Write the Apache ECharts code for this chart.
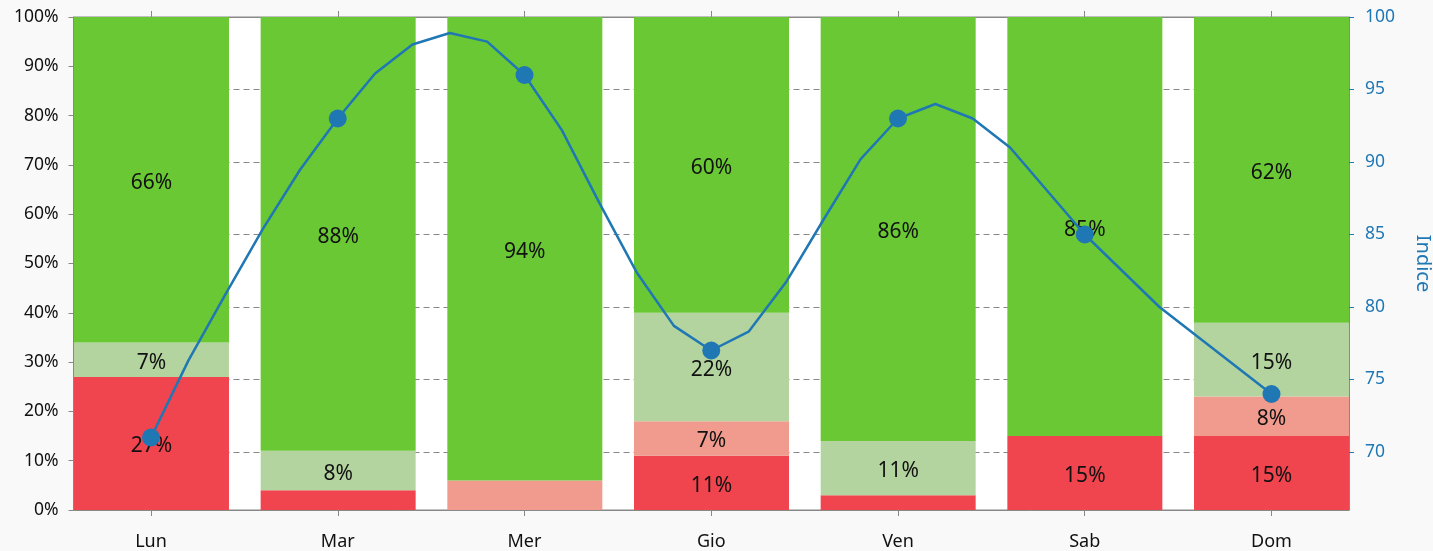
<!DOCTYPE html>
<html>
<head>
<meta charset="utf-8">
<script src="https://cdn.jsdelivr.net/npm/echarts@6/dist/echarts.min.js"></script>
<style>
html,body{margin:0;padding:0;background:#f9f9f9;}
#chart{width:1433px;height:551px;}
</style>
</head>
<body>
<div id="chart"></div>
<script>
const days = ['Lun', 'Mar', 'Mer', 'Gio', 'Ven', 'Sab', 'Dom'];
const redVals = [27, 4, 0, 11, 3, 15, 15];
const salmonVals = [0, 0, 6, 7, 0, 0, 8];
const lightGreenVals = [7, 8, 0, 22, 11, 0, 15];
const greenVals = [66, 88, 94, 60, 86, 85, 62];
const indexVals = [71, 93, 96, 77, 93, 85, 74];
// vertices of the drawn curve, 5 steps per day
const curveVals = [71, 76.3, 80.9, 85.4, 89.5,
                   93, 96.1, 98.1, 98.9, 98.3,
                   96, 92.2, 87.2, 82.4, 78.7,
                   77, 78.3, 81.7, 86.0, 90.2,
                   93, 94.0, 93.0, 91.0, 88.0,
                   85, 82.5, 80.0, 78.0, 76.0,
                   74];
const rightTicks = [70, 75, 80, 85, 90, 95, 100];
const gridVals = [70, 75, 80, 85, 90, 95];
const dayPos = days.map((d, i) => i);

const FONT = 'Noto Sans';
const BLUE = '#1f77b4';
const GREY = '#888888';

function barSeries(name, vals, color) {
  return {
    name: name, type: 'bar', stack: 'total', xAxisIndex: 2, yAxisIndex: 2,
    barWidth: 155, z: 2,
    data: vals,
    itemStyle: { color: color },
    label: {
      show: true, position: 'inside', offset: [0, 3], color: '#111', fontFamily: FONT, fontSize: 21,
      formatter: p => (p.value >= 7 ? p.value + '%' : '')
    }
  };
}

const chart = echarts.init(document.getElementById('chart'), null, { renderer: 'canvas' });
chart.setOption({
  animation: false,
  backgroundColor: '#f9f9f9',
  grid: [
    { left: 73.5, right: 84, top: 17, bottom: 41, show: true, backgroundColor: '#ffffff', borderColor: GREY, borderWidth: 1, outerBoundsMode: 'none', containLabel: false },
    { left: 58.15, right: 68.15, top: 17, bottom: 41, show: false, outerBoundsMode: 'none', containLabel: false }
  ],
  xAxis: [
    {
      gridIndex: 0, type: 'value', min: -0.415, max: 6.415, position: 'bottom',
      axisLine: { show: true, onZero: false, lineStyle: { color: GREY } },
      axisTick: { show: true, length: 6, lineStyle: { color: GREY }, customValues: dayPos },
      axisLabel: { customValues: dayPos, formatter: v => days[Math.round(v)], color: '#111', fontFamily: FONT, fontSize: 18, margin: 23 },
      splitLine: { show: false }
    },
    {
      gridIndex: 0, type: 'value', min: -0.415, max: 6.415, position: 'top',
      axisLine: { show: true, onZero: false, lineStyle: { color: GREY } },
      axisTick: { show: true, length: 6, lineStyle: { color: GREY }, customValues: dayPos },
      axisLabel: { show: false },
      splitLine: { show: false }
    },
    {
      gridIndex: 1, type: 'category', data: days, show: false, boundaryGap: true
    }
  ],
  yAxis: [
    {
      gridIndex: 0, type: 'value', min: 0, max: 100, interval: 10, position: 'left',
      axisLine: { show: true, onZero: false, lineStyle: { color: GREY } },
      axisTick: { show: true, length: 5, lineStyle: { color: GREY } },
      axisLabel: { formatter: '{value}%', color: '#111', fontFamily: FONT, fontSize: 17.5, margin: 15 },
      splitLine: { show: false }
    },
    {
      gridIndex: 0, type: 'value', min: 66, max: 100, position: 'right',
      name: 'Indice', nameLocation: 'middle', nameRotate: -90, nameGap: 64,
      nameTextStyle: { color: BLUE, fontFamily: FONT, fontSize: 20 },
      axisLine: { show: true, onZero: false, lineStyle: { color: GREY } },
      axisTick: { show: true, length: 5, lineStyle: { color: BLUE }, customValues: rightTicks },
      axisLabel: { customValues: rightTicks, color: BLUE, fontFamily: FONT, fontSize: 17.5, margin: 16 },
      splitLine: { show: false }
    },
    {
      gridIndex: 1, type: 'value', min: 0, max: 100, show: false
    }
  ],
  series: [
    {
      name: 'grid', type: 'line', xAxisIndex: 0, yAxisIndex: 1, z: 1, data: [], symbol: 'none',
      markLine: {
        z: 1, silent: true, symbol: 'none', label: { show: false },
        lineStyle: { type: [6, 4], color: GREY, width: 1 },
        data: gridVals.map(v => ({ yAxis: v }))
      }
    },
    barSeries('red', redVals, '#f0454f'),
    barSeries('salmon', salmonVals, '#f19b8e'),
    barSeries('lightgreen', lightGreenVals, '#b4d49f'),
    barSeries('green', greenVals, '#69c834'),
    {
      name: 'Indice', type: 'line', xAxisIndex: 0, yAxisIndex: 1, z: 5,
      data: curveVals.map((v, i) => [i / 5, v]),
      symbol: 'none', smooth: false,
      lineStyle: { color: BLUE, width: 2.5 }
    },
    {
      name: 'IndiceMarkers', type: 'scatter', xAxisIndex: 0, yAxisIndex: 1, z: 6,
      data: indexVals.map((v, i) => [i, v]),
      symbol: 'circle', symbolSize: 18,
      itemStyle: { color: BLUE, opacity: 1 }
    }
  ]
});
</script>
</body>
</html>
